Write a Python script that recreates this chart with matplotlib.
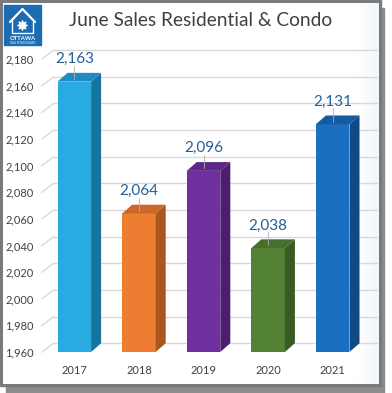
import matplotlib
matplotlib.use("Agg")
import matplotlib.pyplot as plt
import numpy as np
from matplotlib.patches import Polygon, Rectangle
from matplotlib.colors import LinearSegmentedColormap

years = ["2017", "2018", "2019", "2020", "2021"]
sales = [2163, 2064, 2096, 2038, 2131]
front_colors = ["#29abe2", "#ed7d31", "#7030a0", "#548235", "#1a6fc0"]
side_colors = ["#17749f", "#a9561f", "#4a1f6e", "#395a22", "#0f4a85"]
top_colors = ["#1e8cc2", "#c9682a", "#5d2888", "#466e2c", "#155ba3"]
yticks = [1960, 1980, 2000, 2020, 2040, 2060, 2080, 2100, 2120, 2140, 2160, 2180]
title = "June Sales Residential & Condo"

plt.rcParams['font.family'] = ['Lato', 'DejaVu Sans']

W, H = 392, 393
fig = plt.figure(figsize=(W / 100, H / 100), dpi=100)
fig.patch.set_facecolor("white")

# background panel with frame and gradient
bg = fig.add_axes([0, 0, 1, 1])
bg.set_xlim(0, W)
bg.set_ylim(H, 0)
bg.axis("off")
bg.add_patch(Rectangle((6, 8), 378, 386, color="#8c8c8c", zorder=0))
bg.add_patch(Rectangle((0, 0), 381, 386, color="#7a7a7a", zorder=1))
yy, xx = np.mgrid[0:1:200j, 0:1:200j]
d = np.clip(np.maximum(np.abs(xx - 0.45) * 1.6, np.abs(yy - 0.5) * 1.6) ** 3, 0, 1)
cmap = LinearSegmentedColormap.from_list("g", ["#ffffff", "#ffffff", "#d6e7f5"])
bg.imshow(d, extent=(3, 379, 384, 3), cmap=cmap, vmin=0, vmax=1, zorder=2, aspect="auto")

# logo
bg.add_patch(Rectangle((4, 5), 37, 40, color="#1b6db3", zorder=3))
bg.plot([10, 22.5, 35], [22, 9, 22], color="white", lw=1.6, zorder=4, solid_capstyle="round")
bg.plot([12, 12, 33, 33], [20, 33, 33, 20], color="white", lw=1.0, zorder=4)
bg.scatter([22.5], [25], marker=(8, 1, 0), s=45, color="white", zorder=4)
bg.text(22.5, 38.5, "OTTAWA", color="white", fontsize=4.2, fontweight="bold",
        ha="center", va="center", zorder=5)
bg.text(22.5, 42.5, "REAL ESTATE BOARD", color="white", fontsize=1.8,
        ha="center", va="center", zorder=5)

bg.text(201, 20, title, fontsize=13.8, color="#404040", ha="center", va="center", zorder=5)

# main chart
left_px, right_px, bot_px, top_px = 42, 365, 352, 59
ax = fig.add_axes([left_px / W, 1 - bot_px / H, (right_px - left_px) / W, (bot_px - top_px) / H])
ax.patch.set_alpha(0)
ymin, ymax = 1960, 2180
ax.set_xlim(-0.5, 4.5)
ax.set_ylim(ymin, ymax)
for s in ax.spines.values():
    s.set_visible(False)

x = np.arange(len(years))
bw = 0.52
dxb = 0.155   # bar depth in x units
dyb = 6.6     # bar depth in y units
dxg = 0.18    # grid back-plane offset

ax.set_yticks(yticks)
ax.set_yticklabels([f"{v:,}" for v in yticks], fontsize=8, color="#404040")
ax.set_xticks(x)
ax.set_xticklabels(years, fontsize=8, color="#404040")
ax.tick_params(axis="both", length=0)
ax.tick_params(axis="y", pad=6)
ax.tick_params(axis="x", pad=9)

for v in yticks:
    ax.plot([-0.5, -0.5 + dxg], [v, v + dyb], color="#d9d9d9", lw=1, clip_on=False, zorder=1)
    ax.plot([-0.5 + dxg, 4.5 + dxg], [v + dyb, v + dyb], color="#d9d9d9", lw=1,
            clip_on=False, zorder=1)

bars = ax.bar(x, [v - ymin for v in sales], bottom=ymin, width=bw, color=front_colors,
              zorder=3, linewidth=0)
for i, v in enumerate(sales):
    l, r = x[i] - bw / 2, x[i] + bw / 2
    side = Polygon([(r, ymin), (r + dxb, ymin + dyb), (r + dxb, v + dyb), (r, v)],
                   closed=True, color=side_colors[i], lw=0, zorder=3)
    top = Polygon([(l, v), (l + dxb, v + dyb), (r + dxb, v + dyb), (r, v)],
                  closed=True, color=top_colors[i], lw=0, zorder=3)
    ax.add_patch(side)
    ax.add_patch(top)
    ax.plot([x[i], x[i]], [v + 2, v + 12], color="#b0b0b0", lw=0.6, zorder=4, clip_on=False)
    ax.text(x[i], v + 17, f"{v:,}", fontsize=11, color="#245e98", ha="center",
            va="center", zorder=5, clip_on=False)

fig.savefig("out.png", dpi=100)
